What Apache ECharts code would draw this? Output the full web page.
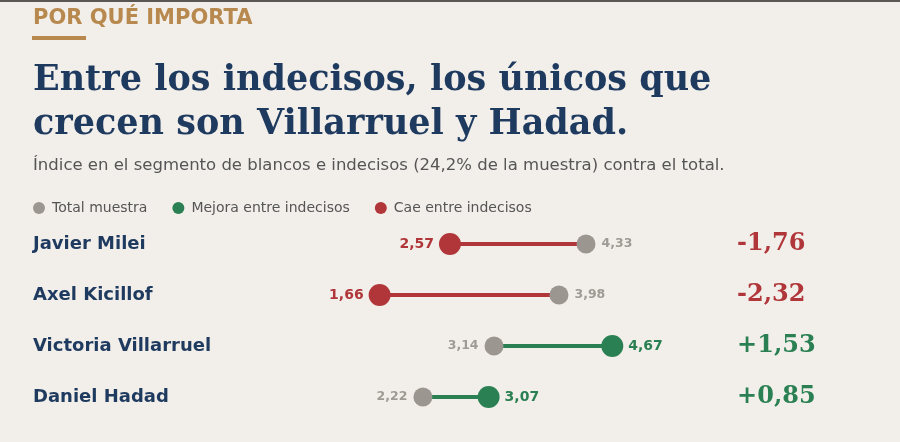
<!DOCTYPE html>
<html>
<head>
<meta charset="utf-8">
<script src="https://cdn.jsdelivr.net/npm/echarts@6/dist/echarts.min.js"></script>
<style>
html,body{margin:0;padding:0;background:#f2efea;}
#chart{width:900px;height:442px;}
</style>
</head>
<body>
<div id="chart"></div>
<script>
const kicker = 'POR QUÉ IMPORTA';
const titleLines = ['Entre los indecisos, los únicos que', 'crecen son Villarruel y Hadad.'];
const subtitle = 'Índice en el segmento de blancos e indecisos (24,2% de la muestra) contra el total.';
const legendLabels = ['Total muestra', 'Mejora entre indecisos', 'Cae entre indecisos'];
const candidates = ['Javier Milei', 'Axel Kicillof', 'Victoria Villarruel', 'Daniel Hadad'];
const totalValues = [4.33, 3.98, 3.14, 2.22];
const indecisosValues = [2.57, 1.66, 4.67, 3.07];

const RED = '#b0363a';
const GREEN = '#2a8052';
const GREY = '#9b9690';
const GREY_TXT = '#9e9a94';
const NAVY = '#1f3a5f';

const fmt = v => v.toFixed(2).replace('.', ',');
const deltas = candidates.map((c, i) => indecisosValues[i] - totalValues[i]);

const chart = echarts.init(document.getElementById('chart'), null, {renderer: 'canvas'});

const totalData = candidates.map((c, i) => {
  const outsideLeft = totalValues[i] < indecisosValues[i];
  return {
    value: [totalValues[i], i],
    label: {position: outsideLeft ? 'left' : 'right'}
  };
});
const upData = [], downData = [];
candidates.forEach((c, i) => {
  const up = indecisosValues[i] > totalValues[i];
  const item = {value: [indecisosValues[i], i]};
  (up ? upData : downData).push(item);
});

const option = {
  backgroundColor: '#f2efea',
  animation: false,
  graphic: [
    {type: 'rect', left: 0, top: 0, shape: {width: 900, height: 2}, style: {fill: '#5a5654'}},
    {type: 'text', x: 33, y: 18.7, style: {text: kicker, font: 'bold 21px "DejaVu Sans"', fill: '#b8894f', verticalAlign: 'middle'}},
    {type: 'rect', left: 32, top: 36, shape: {width: 54, height: 4}, style: {fill: '#b8894f'}},
    {type: 'text', x: 33, y: 81, style: {text: titleLines[0], font: 'bold 35px "DejaVu Serif"', fill: NAVY, verticalAlign: 'middle'}},
    {type: 'text', x: 33, y: 125, style: {text: titleLines[1], font: 'bold 35px "DejaVu Serif"', fill: NAVY, verticalAlign: 'middle'}},
    {type: 'text', x: 33, y: 166, style: {text: subtitle, font: '16.5px "DejaVu Sans"', fill: '#555555', verticalAlign: 'middle'}}
  ],
  legend: {
    left: 33, top: 201, padding: 0,
    itemWidth: 12, itemHeight: 12, itemGap: 25,
    icon: 'circle', selectedMode: false,
    data: legendLabels,
    textStyle: {fontFamily: 'DejaVu Sans', fontSize: 14, color: '#555555', padding: [0, 0, 0, 2]}
  },
  grid: {left: 251.3, right: 184.9, top: 218.5, bottom: 19.5, containLabel: false},
  xAxis: {type: 'value', min: 0, max: 6, show: false},
  yAxis: [
    {
      type: 'category', data: candidates, inverse: true,
      axisLine: {show: false}, axisTick: {show: false}, splitLine: {show: false},
      axisLabel: {align: 'left', margin: 218.3, fontFamily: 'DejaVu Sans', fontWeight: 'bold', fontSize: 18, color: NAVY}
    },
    {
      type: 'category', data: candidates, inverse: true, position: 'right',
      axisLine: {show: false}, axisTick: {show: false}, splitLine: {show: false},
      axisLabel: {
        align: 'left', margin: 22,
        formatter: (v, i) => {
          const d = deltas[i];
          return d >= 0 ? '{pos|+' + fmt(d) + '}' : '{neg|-' + fmt(-d) + '}';
        },
        rich: {
          pos: {fontFamily: 'DejaVu Serif', fontWeight: 'bold', fontSize: 24, color: GREEN},
          neg: {fontFamily: 'DejaVu Serif', fontWeight: 'bold', fontSize: 24, color: RED}
        }
      }
    }
  ],
  series: [
    {
      type: 'custom', name: 'segmentos', z: 1,
      data: candidates.map((c, i) => [i, totalValues[i], indecisosValues[i]]),
      encode: {x: [1, 2], y: 0},
      renderItem: (params, api) => {
        const idx = api.value(0);
        const a = api.coord([api.value(1), idx]);
        const b = api.coord([api.value(2), idx]);
        const col = api.value(2) > api.value(1) ? GREEN : RED;
        return {type: 'line', shape: {x1: a[0], y1: a[1], x2: b[0], y2: b[1]}, style: {stroke: col, lineWidth: 4}};
      },
      silent: true
    },
    {
      type: 'scatter', name: legendLabels[0], z: 3,
      symbolSize: 19, itemStyle: {color: GREY, opacity: 1},
      data: totalData,
      label: {show: true, distance: 6, formatter: p => fmt(p.value[0]), fontFamily: 'DejaVu Sans', fontWeight: 'bold', fontSize: 12.5, color: GREY_TXT}
    },
    {
      type: 'scatter', name: legendLabels[1], z: 4,
      symbolSize: 22, itemStyle: {color: GREEN, opacity: 1},
      data: upData,
      label: {show: true, position: 'right', distance: 5, formatter: p => fmt(p.value[0]), fontFamily: 'DejaVu Sans', fontWeight: 'bold', fontSize: 14, color: GREEN}
    },
    {
      type: 'scatter', name: legendLabels[2], z: 4,
      symbolSize: 22, itemStyle: {color: RED, opacity: 1},
      data: downData,
      label: {show: true, position: 'left', distance: 5, formatter: p => fmt(p.value[0]), fontFamily: 'DejaVu Sans', fontWeight: 'bold', fontSize: 14, color: RED}
    }
  ]
};
chart.setOption(option);
</script>
</body>
</html>
